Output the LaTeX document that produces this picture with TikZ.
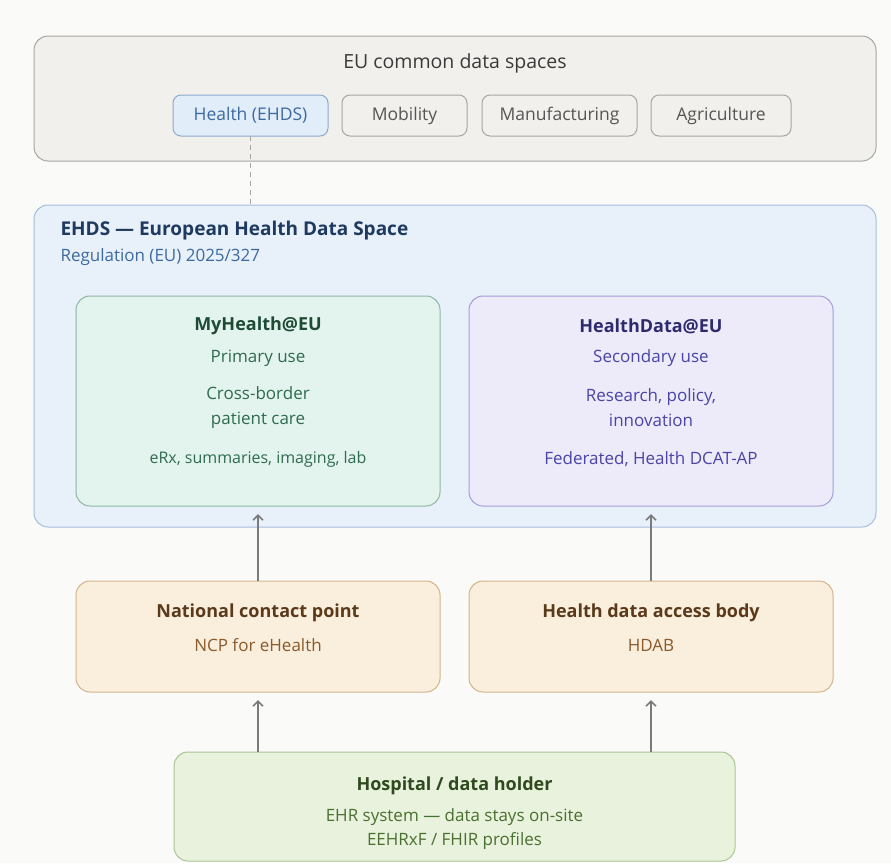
\documentclass[tikz,border=0pt]{standalone}
\usepackage{fontspec}
\setmainfont{Open Sans}
\usepackage{tikz}
\usetikzlibrary{positioning,arrows.meta}

\definecolor{pagebg}{HTML}{FAFAF8}
\definecolor{spacefill}{HTML}{F1F0EC}
\definecolor{spaceline}{HTML}{A6A6A2}
\definecolor{spacetext}{HTML}{3A3A3A}
\definecolor{pilltext}{HTML}{555555}
\definecolor{ehdsfill}{HTML}{E8F0FA}
\definecolor{ehdsline}{HTML}{A4BEDC}
\definecolor{ehdstitle}{HTML}{1F3A5F}
\definecolor{ehdssub}{HTML}{3C6AA0}
\definecolor{pillfill}{HTML}{E2EDFA}
\definecolor{pillline}{HTML}{8DAACE}
\definecolor{primfill}{HTML}{E3F4EE}
\definecolor{primline}{HTML}{8DB8A2}
\definecolor{primtitle}{HTML}{1E4A36}
\definecolor{primtext}{HTML}{2F6B4F}
\definecolor{secfill}{HTML}{EDEBFA}
\definecolor{secline}{HTML}{A29ED8}
\definecolor{sectitle}{HTML}{2E2A6E}
\definecolor{sectext}{HTML}{4A44A8}
\definecolor{bodyfill}{HTML}{FAEEDC}
\definecolor{bodyline}{HTML}{D4B48C}
\definecolor{bodytitle}{HTML}{5A3A1A}
\definecolor{bodytext}{HTML}{8A5A2A}
\definecolor{holdfill}{HTML}{E9F2DD}
\definecolor{holdline}{HTML}{A9C592}
\definecolor{holdtitle}{HTML}{2E4A1E}
\definecolor{holdtext}{HTML}{4A7030}
\definecolor{linkgray}{HTML}{7A7A7A}

\begin{document}
\begin{tikzpicture}[x=1pt,y=-1pt,
			box/.style={rectangle, rounded corners=14pt, line width=1pt, inner sep=0pt, outer sep=0pt},
			pill/.style={rectangle, rounded corners=8pt, line width=1pt, draw=spaceline, fill=spacefill, inner sep=0pt, outer sep=0pt, minimum height=41pt, font=\fontsize{17.5}{20}\selectfont, text=pilltext},
			head/.style={font=\fontsize{18}{21}\selectfont\bfseries},
			line/.style={font=\fontsize{17}{24.5}\selectfont},
			link/.style={draw=linkgray, line width=1.6pt, -{Straight Barb[length=5pt,width=10pt]}},
			]
			\useasboundingbox[fill=pagebg] (0,0) rectangle (891,863);
			%Nodes
				\node[box, draw=spaceline, fill=spacefill, minimum width=842pt, minimum height=125pt] (spaces) at (455,98.5) {};
				\node[font=\fontsize{19.5}{23}\selectfont, text=spacetext] (spaces-title) at (455,63) {EU common data spaces};
				\node[pill, draw=pillline, fill=pillfill, text=ehdssub, minimum width=155pt] (health) at (250.5,115.5) {Health (EHDS)};
				\node[pill, minimum width=125pt] (mobility) at (404.5,115.5) {Mobility};
				\node[pill, minimum width=155pt] (manufacturing) at (559.5,115.5) {Manufacturing};
				\node[pill, minimum width=140pt] (agriculture) at (721,115.5) {Agriculture};

				\node[box, draw=ehdsline, fill=ehdsfill, minimum width=842pt, minimum height=322pt] (ehds) at (455,366) {};
				\node[head, font=\fontsize{19}{22}\selectfont\bfseries, text=ehdstitle, anchor=west] (ehds-title) at (57,231) {EHDS — European Health Data Space};
				\node[line, text=ehdssub, anchor=west] (ehds-sub) at (57,257) {Regulation (EU) 2025/327};

				\node[box, draw=primline, fill=primfill, minimum width=364pt, minimum height=210pt] (myhealth) at (258,401) {};
				\node[head, text=primtitle] (myhealth-title) at (258,326) {MyHealth@EU};
				\node[line, text=primtext] (myhealth-use) at (258,358) {Primary use};
				\node[line, text=primtext, align=center] (myhealth-care) at (258,407.5) {Cross-border\\patient care};
				\node[line, font=\fontsize{16}{20}\selectfont, text=primtext] (myhealth-data) at (258,459) {eRx, summaries, imaging, lab};

				\node[box, draw=secline, fill=secfill, minimum width=364pt, minimum height=210pt] (healthdata) at (651,401) {};
				\node[head, text=sectitle] (healthdata-title) at (651,326) {HealthData@EU};
				\node[line, text=sectext] (healthdata-use) at (651,358) {Secondary use};
				\node[line, text=sectext, align=center] (healthdata-aim) at (651,407.5) {Research, policy,\\innovation};
				\node[line, text=sectext] (healthdata-data) at (651,459) {Federated, Health DCAT-AP};

				\node[box, draw=bodyline, fill=bodyfill, minimum width=364pt, minimum height=111pt] (ncp) at (258,636.5) {};
				\node[head, text=bodytitle] (ncp-title) at (258,613) {National contact point};
				\node[line, text=bodytext] (ncp-sub) at (258,645) {NCP for eHealth};

				\node[box, draw=bodyline, fill=bodyfill, minimum width=364pt, minimum height=111pt] (hdab) at (651,636.5) {};
				\node[head, text=bodytitle] (hdab-title) at (651,613) {Health data access body};
				\node[line, text=bodytext] (hdab-sub) at (651,645) {HDAB};

				\node[box, draw=holdline, fill=holdfill, minimum width=561pt, minimum height=109pt] (hospital) at (454.5,806.5) {};
				\node[head, text=holdtitle] (hospital-title) at (454.5,786) {Hospital / data holder};
				\node[line, font=\fontsize{17}{24}\selectfont, text=holdtext, align=center] (hospital-sub) at (454.5,829) {EHR system — data stays on-site\\EEHRxF / FHIR profiles};

			%Lines
				\draw[spaceline, line width=1pt, dash pattern=on 5pt off 4pt] (health.south) -- (ehds.north -| health.south);
				\draw[link, shorten >=8pt] (ncp.north) -- (myhealth.south);
				\draw[link, shorten >=8pt] (hdab.north) -- (healthdata.south);
				\draw[link, shorten >=8pt] (hospital.north -| ncp.south) -- (ncp.south);
				\draw[link, shorten >=8pt] (hospital.north -| hdab.south) -- (hdab.south);
		\end{tikzpicture}
\end{document}
